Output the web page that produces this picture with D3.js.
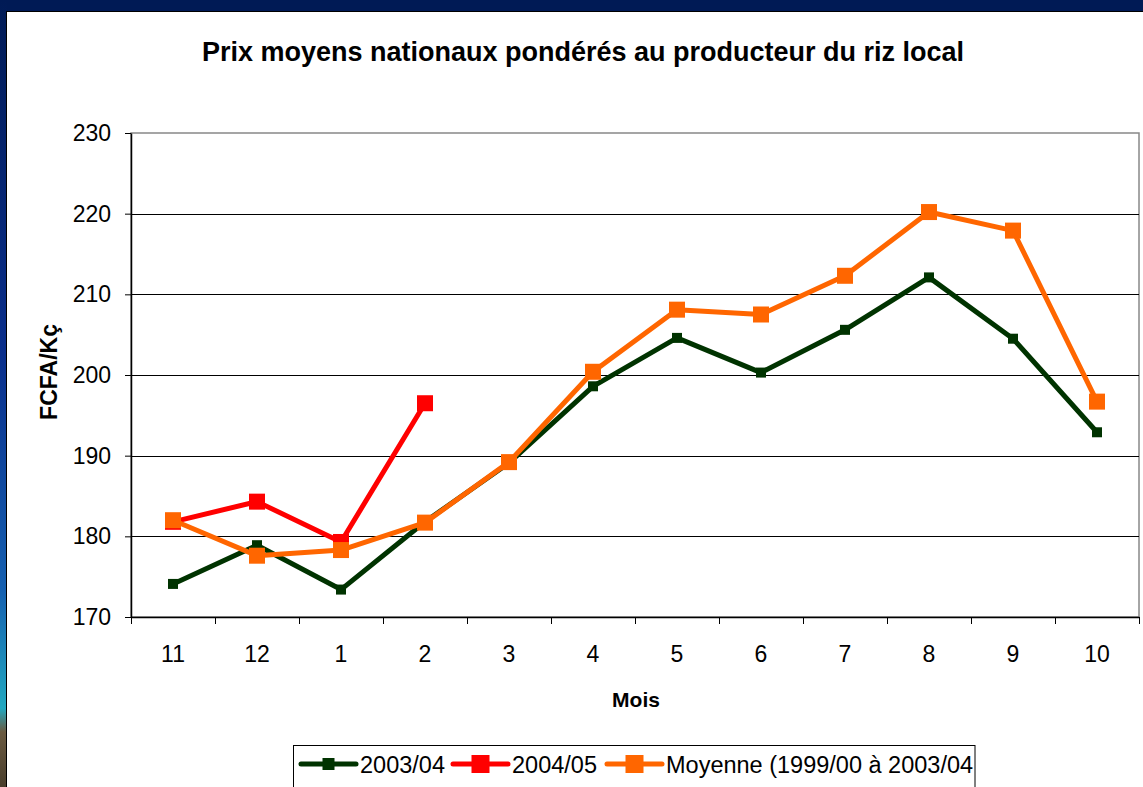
<!DOCTYPE html>
<html>
<head>
<meta charset="utf-8">
<script src="https://cdn.jsdelivr.net/npm/d3@7"></script>
<style>
  body { margin: 0; background: #fff; }
  svg { display: block; font-family: "Liberation Sans", Arial, sans-serif; }
</style>
</head>
<body>
<script>
var months = ["11", "12", "1", "2", "3", "4", "5", "6", "7", "8", "9", "10"];
var yTicks = [170, 180, 190, 200, 210, 220, 230];

var s2003 = [174.1, 178.9, 173.4, 181.8, 189.1, 198.6, 204.6, 200.3, 205.6, 212.1, 204.5, 192.9];
var s2004 = [181.8, 184.3, 179.3, 196.5];
var sMoy = [182.0, 177.6, 178.3, 181.7, 189.2, 200.4, 208.1, 207.5, 212.3, 220.2, 217.9, 196.7];

var seriesNames = ["2003/04", "2004/05", "Moyenne (1999/00 à 2003/04"];

var width = 1143,
    height = 787;

var margin = { left: 131, top: 133, right: 1139, bottom: 617 };

var svg = d3.select("body").append("svg")
    .attr("width", width)
    .attr("height", height);

// slide background frame
var defs = svg.append("defs");
var grad = defs.append("linearGradient")
    .attr("id", "side").attr("x1", 0).attr("y1", 0).attr("x2", 0).attr("y2", 1);
grad.append("stop").attr("offset", "0%").attr("stop-color", "#001a55");
grad.append("stop").attr("offset", "45%").attr("stop-color", "#0a2f8c");
grad.append("stop").attr("offset", "75%").attr("stop-color", "#1560b0");
grad.append("stop").attr("offset", "90%").attr("stop-color", "#22a8c0");
grad.append("stop").attr("offset", "93%").attr("stop-color", "#6a5a40");
grad.append("stop").attr("offset", "100%").attr("stop-color", "#4a3e2c");

svg.append("rect").attr("x", 0).attr("y", 0).attr("width", width).attr("height", 11)
    .attr("fill", "#001a55");
svg.append("rect").attr("x", 0).attr("y", 0).attr("width", 7).attr("height", height)
    .attr("fill", "url(#side)");
svg.append("line").attr("x1", 7).attr("x2", width).attr("y1", 11.5).attr("y2", 11.5)
    .attr("stroke", "#000").attr("stroke-width", 1);
svg.append("line").attr("x1", 6.5).attr("x2", 6.5).attr("y1", 11).attr("y2", height)
    .attr("stroke", "#000").attr("stroke-width", 1);

var x = d3.scaleBand()
    .domain(months)
    .range([margin.left, margin.right]);

var y = d3.scaleLinear()
    .domain([170, 230])
    .range([margin.bottom, margin.top]);

// plot border (top/right grey)
svg.append("rect")
    .attr("x", margin.left).attr("y", margin.top)
    .attr("width", margin.right - margin.left).attr("height", margin.bottom - margin.top)
    .attr("fill", "none").attr("stroke", "#888").attr("stroke-width", 1.5);

// gridlines
svg.append("g").selectAll("line")
    .data(yTicks.slice(1, -1))
  .enter().append("line")
    .attr("x1", margin.left).attr("x2", margin.right)
    .attr("y1", function(d) { return Math.round(y(d)) + 0.5; })
    .attr("y2", function(d) { return Math.round(y(d)) + 0.5; })
    .attr("stroke", "#000").attr("stroke-width", 1);

// y axis
var yAxis = svg.append("g")
    .attr("transform", "translate(" + margin.left + ",0)")
    .call(d3.axisLeft(y).tickValues(yTicks).tickSize(6).tickPadding(14).tickSizeOuter(0));
yAxis.select(".domain").attr("stroke", "#000").attr("stroke-width", 1.5);
yAxis.selectAll(".tick line").attr("stroke", "#000");
yAxis.selectAll("text").attr("font-size", 23).attr("fill", "#000")
    .attr("font-family", "Liberation Sans, Arial, sans-serif");

// x axis, ticks at band edges
var xAxis = svg.append("g")
    .attr("transform", "translate(0," + margin.bottom + ")")
    .call(d3.axisBottom(x).tickSize(0).tickPadding(29));
xAxis.select(".domain").attr("stroke", "#000").attr("stroke-width", 1.5);
xAxis.selectAll("text").attr("font-size", 23).attr("fill", "#000")
    .attr("font-family", "Liberation Sans, Arial, sans-serif");
xAxis.selectAll(".edge")
    .data(d3.range(months.length + 1))
  .enter().append("line")
    .attr("class", "edge")
    .attr("x1", function(i) { return Math.round(margin.left + i * x.bandwidth()) + 0.5; })
    .attr("x2", function(i) { return Math.round(margin.left + i * x.bandwidth()) + 0.5; })
    .attr("y1", 0).attr("y2", 7)
    .attr("stroke", "#000");

// titles
svg.append("text")
    .attr("x", 583).attr("y", 61)
    .attr("text-anchor", "middle")
    .attr("font-size", 27).attr("font-weight", "bold")
    .text("Prix moyens nationaux pondérés au producteur du riz local");

svg.append("text")
    .attr("x", 636).attr("y", 707)
    .attr("text-anchor", "middle")
    .attr("font-size", 21).attr("font-weight", "bold")
    .text("Mois");

svg.append("text")
    .attr("transform", "translate(57,372) rotate(-90)")
    .attr("text-anchor", "middle")
    .attr("font-size", 23).attr("font-weight", "bold")
    .text("FCFA/Kç");

var series = [
  { name: seriesNames[0], values: s2003, color: "#003300", size: 10, lsize: 12 },
  { name: seriesNames[1], values: s2004, color: "#ff0000", size: 16, lsize: 18 },
  { name: seriesNames[2], values: sMoy, color: "#ff6600", size: 16, lsize: 18 }
];

var line = d3.line()
    .x(function(d, i) { return x(months[i]) + x.bandwidth() / 2; })
    .y(function(d) { return y(d); });

var g = svg.selectAll(".series")
    .data(series)
  .enter().append("g")
    .attr("class", "series");

g.append("path")
    .attr("d", function(d) { return line(d.values); })
    .attr("fill", "none")
    .attr("stroke", function(d) { return d.color; })
    .attr("stroke-width", 5)
    .attr("stroke-linejoin", "round");

g.each(function(s) {
  d3.select(this).selectAll("rect")
      .data(s.values)
    .enter().append("rect")
      .attr("x", function(d, i) { return x(months[i]) + x.bandwidth() / 2 - s.size / 2; })
      .attr("y", function(d) { return y(d) - s.size / 2; })
      .attr("width", s.size).attr("height", s.size)
      .attr("fill", s.color);
});

// legend
var legend = svg.append("g");
legend.append("rect")
    .attr("x", 293.5).attr("y", 745.5)
    .attr("width", 681.5).attr("height", 50)
    .attr("fill", "#fff").attr("stroke", "#000").attr("stroke-width", 1);

var legendX = [301, 453, 607];
var item = legend.selectAll(".item")
    .data(series)
  .enter().append("g")
    .attr("class", "item")
    .attr("transform", function(d, i) { return "translate(" + legendX[i] + ",764)"; });

item.append("line")
    .attr("x1", 0).attr("x2", 55).attr("y1", 0).attr("y2", 0)
    .attr("stroke", function(d) { return d.color; })
    .attr("stroke-width", 5).attr("stroke-linecap", "round");
item.append("rect")
    .attr("x", function(d) { return 27.5 - d.lsize / 2; })
    .attr("y", function(d) { return -d.lsize / 2; })
    .attr("width", function(d) { return d.lsize; })
    .attr("height", function(d) { return d.lsize; })
    .attr("fill", function(d) { return d.color; });
item.append("text")
    .attr("x", 59).attr("y", 9)
    .attr("font-size", 23.5)
    .text(function(d) { return d.name; });
</script>
</body>
</html>
